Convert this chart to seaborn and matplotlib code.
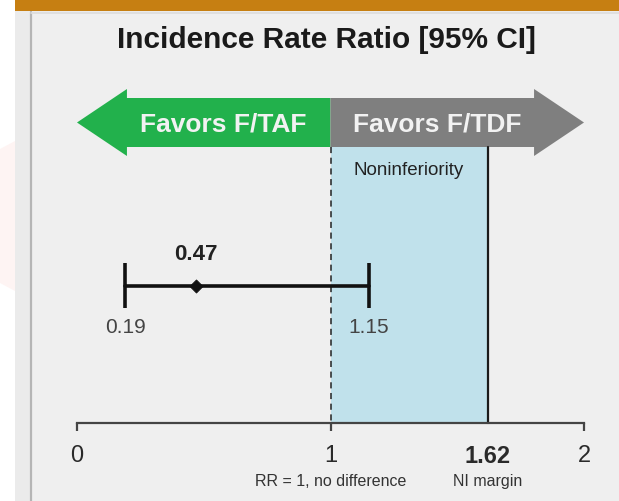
import matplotlib
matplotlib.use("Agg")
import matplotlib.pyplot as plt
from matplotlib.patches import Polygon, Rectangle
import seaborn as sns
import pandas as pd

# Incidence rate ratio with 95% confidence interval
point_est = 0.47
ci_low = 0.19
ci_high = 1.15
null_value = 1.0
ni_margin = 1.62
axis_ticks = [0, 1, 2]
tick_labels = ["0", "1", "1.62", "2"]

title = "Incidence Rate Ratio [95% CI]"
left_label = "Favors F/TAF"
right_label = "Favors F/TDF"
region_label = "Noninferiority"
null_note = "RR = 1, no difference"
margin_note = "NI margin"

sns.set_theme(style="white")
plt.rcParams["font.family"] = ["Liberation Sans", "DejaVu Sans"]

W, H = 619, 502
fig = plt.figure(figsize=(W / 100, H / 100), dpi=100)
fig.patch.set_facecolor("white")

# decoration layer in pixel coordinates
bg = fig.add_axes([0, 0, 1, 1])
bg.set_xlim(0, W)
bg.set_ylim(H, 0)
bg.axis("off")
bg.add_patch(Rectangle((15, 0), W - 15, 12, color="#C67F12", lw=0))
bg.add_patch(Polygon([(0, 150), (15, 142), (15, 292), (0, 284)], closed=True,
                     color="#FEF4F3", lw=0))
bg.add_patch(Rectangle((15, 12), W - 15, H - 12, color="#EBEBEB", lw=0))
bg.add_patch(Rectangle((31, 13), W - 31, H - 13, facecolor="#EFEFEF",
                       edgecolor="none"))
bg.plot([31, 31], [13, H], color="#B5B5B5", lw=1.6)
bg.plot([31, W], [13.5, 13.5], color="#DCDCDC", lw=1.2)

# data axes: x in ratio units, y in pixel rows from the top
x0_px, px_per_unit = 77, 253.5
ax = fig.add_axes([0, 0, 1, 1])
ax.set_xlim(-x0_px / px_per_unit, (W - x0_px) / px_per_unit)
ax.set_ylim(H, 0)
ax.patch.set_alpha(0)
for s in ["top", "left", "right"]:
    ax.spines[s].set_visible(False)
axis_y = 424
ax.spines["bottom"].set_position(("data", axis_y))
ax.spines["bottom"].set_bounds(axis_ticks[0], axis_ticks[-1])
ax.spines["bottom"].set_color("#444444")
ax.spines["bottom"].set_linewidth(1.6)
ax.set_yticks([])
ax.set_xticks(axis_ticks[:2] + [ni_margin] + axis_ticks[2:])
ax.set_xticklabels(tick_labels)
ax.tick_params(axis="x", direction="out", length=6, width=1.6, color="#444444",
               pad=9, labelsize=17, labelcolor="#2a2a2a", bottom=True)
for lab in ax.get_xticklabels():
    if lab.get_text() == "1.62":
        lab.set_fontweight("bold")
ax.xaxis.get_major_ticks()[2].tick1line.set_visible(False)

# direction arrows
body_top, body_bot, head_top, head_bot = 99, 148, 90, 157
mid = (body_top + body_bot) / 2
head = 0.197
green = [(axis_ticks[0], mid), (axis_ticks[0] + head, head_top),
         (axis_ticks[0] + head, body_top), (null_value, body_top),
         (null_value, body_bot), (axis_ticks[0] + head, body_bot),
         (axis_ticks[0] + head, head_bot)]
gray = [(axis_ticks[-1], mid), (axis_ticks[-1] - head, head_top),
        (axis_ticks[-1] - head, body_top), (null_value, body_top),
        (null_value, body_bot), (axis_ticks[-1] - head, body_bot),
        (axis_ticks[-1] - head, head_bot)]
ax.add_patch(Polygon(green, closed=True, color="#22B14C", lw=0))
ax.add_patch(Polygon(gray, closed=True, color="#7F7F7F", lw=0))
ax.text(0.575, mid + 1, left_label, ha="center", va="center", fontsize=19,
        fontweight="bold", color="#F2F2F2")
ax.text(1.42, mid + 1, right_label, ha="center", va="center", fontsize=19,
        fontweight="bold", color="#F2F2F2")

# noninferiority region
ax.add_patch(Rectangle((null_value, body_bot), ni_margin - null_value,
                       axis_y - body_bot, color="#C0E1EB", lw=0))
ax.plot([null_value, null_value], [body_bot, axis_y], color="#222222", lw=1.1,
        ls=(0, (4, 3)))
ax.plot([ni_margin, ni_margin], [body_bot, axis_y], color="#1a1a1a", lw=1.6)
ax.text((null_value + ni_margin) / 2, 171, region_label, ha="center",
        va="center", fontsize=13.5, color="#222222")

# confidence interval and point estimate
ci_y = 287
ci_df = pd.DataFrame({"x": [ci_low, ci_high], "y": [ci_y, ci_y]})
sns.lineplot(data=ci_df, x="x", y="y", color="#111111", lw=2.6, ax=ax,
             legend=False)
ax.vlines([ci_low, ci_high], ci_y - 23, ci_y + 22, color="#111111", lw=2.6)
pt_df = pd.DataFrame({"x": [point_est], "y": [ci_y]})
sns.scatterplot(data=pt_df, x="x", y="y", marker="D", s=45, color="#111111",
                edgecolor="#111111", ax=ax, legend=False)
ax.set_xlabel("")
ax.set_ylabel("")
ax.text(point_est, 255, f"{point_est:.2f}", ha="center", va="center",
        fontsize=16, fontweight="bold", color="#222222")
ax.text(ci_low, 328, f"{ci_low:.2f}", ha="center", va="center",
        fontsize=15, color="#444444")
ax.text(ci_high, 328, f"{ci_high:.2f}", ha="center", va="center",
        fontsize=15, color="#444444")

# axis notes
ax.text(null_value, 482, null_note, ha="center", va="center", fontsize=11.5,
        color="#333333")
ax.text(ni_margin, 482, margin_note, ha="center", va="center", fontsize=11.5,
        color="#333333")

fig.text(326 / W, 1 - 40 / H, title, ha="center", va="center", fontsize=21.5,
         fontweight="bold", color="#1a1a1a")

fig.savefig("out.png", dpi=100)
